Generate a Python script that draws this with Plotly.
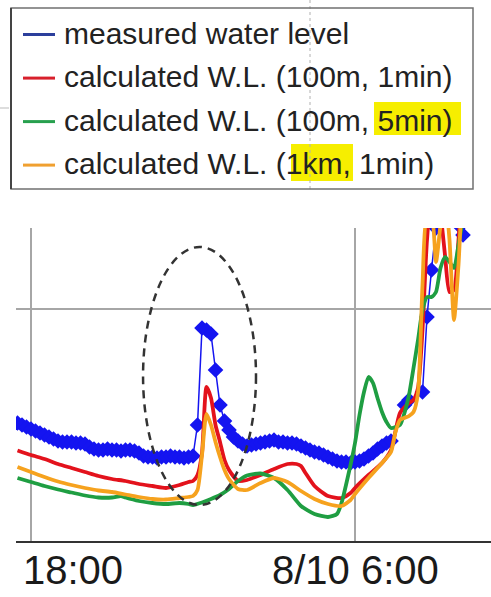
import pandas as pd
import plotly.graph_objects as go

# ---------------- data (water level, m) ----------------
DAY1 = "2014-08-09"
DAY2 = "2014-08-10"

MEAS_START = "2014-08-09 17:30"
MEAS_STEP = "10min"
MEAS_V = [0.86, 0.84, 0.82, 0.80, 0.78, 0.76, 0.74, 0.72, 0.70,
          0.68, 0.67, 0.67, 0.67, 0.66, 0.66,
          0.65, 0.62, 0.60, 0.59, 0.59, 0.60,
          0.59, 0.59, 0.58, 0.59, 0.59, 0.58,
          0.56, 0.53, 0.52, 0.52, 0.51, 0.52,
          0.52, 0.53, 0.52, 0.52, 0.51, 0.52,
          0.53, 0.84, 1.81, 1.79, 1.75, 1.39,
          1.04, 0.88, 0.79, 0.72, 0.68, 0.65,
          0.63, 0.64, 0.65, 0.66, 0.67, 0.68,
          0.69, 0.67, 0.67, 0.66, 0.66, 0.65,
          0.63, 0.61, 0.59, 0.57, 0.56, 0.54,
          0.52, 0.50, 0.48, 0.47, 0.47, 0.46,
          0.47, 0.48, 0.50, 0.53, 0.56, 0.60,
          0.63, 0.66, 0.68,
          None, None, 1.04,
          1.09, None, None, 1.17, 1.92, 2.39,
          2.81, 3.04, 3.09, 3.04, 2.94, 2.84,
          2.74, 2.94, 3.09]

RED_T = ["17:30", "18:00", "18:30", "19:00", "19:30", "20:00", "20:30", "21:00", "21:30", "22:00",
         "22:30", "23:00", "23:30", "23:50", "00:00", "00:10", "00:20", "00:30", "00:40", "00:50",
         "01:00", "01:10", "01:20", "01:40", "02:00", "02:30", "03:00", "03:30", "03:50", "04:00",
         "04:10", "04:30", "05:00", "05:30", "05:50", "06:00", "06:30", "07:00", "07:20", "07:40",
         "08:00", "08:10", "08:20", "08:30", "08:40", "08:50", "09:00", "09:10", "09:20", "09:30",
         "09:40", "09:50", "10:00", "10:20", "10:40", "11:00"]
RED_V = [0.585, 0.54, 0.50, 0.45, 0.41, 0.37, 0.33, 0.30, 0.28, 0.25,
         0.23, 0.21, 0.24, 0.27, 0.28, 0.34, 0.56, 1.22, 1.11, 0.84,
         0.67, 0.49, 0.39, 0.28, 0.29, 0.34, 0.40, 0.45, 0.45, 0.43,
         0.36, 0.23, 0.13, 0.11, 0.16, 0.21, 0.34, 0.46, 0.59, 0.96,
         1.06, 1.09, 1.21, 1.79, 2.69, 3.09, 3.09, 2.94, 2.54, 2.17,
         2.19, 2.69, 3.19, 3.39, 3.29, 3.24]

GREEN_T = ["17:30", "18:00", "18:30", "19:00", "19:30", "20:00", "20:30", "21:00",
           "21:20", "21:30", "22:00", "22:30", "23:00", "23:30", "23:50", "00:00",
           "00:20", "00:40", "01:00", "01:20", "01:40", "02:00", "02:30", "03:00", "03:30", "04:00",
           "04:30", "05:00", "05:20", "05:30", "05:50", "06:00", "06:10", "06:20", "06:30", "06:40",
           "06:50", "07:00", "07:10", "07:20", "07:40", "07:50", "08:00", "08:10", "08:20", "08:30",
           "08:40", "08:50", "09:00", "09:10", "09:20", "09:30", "09:40", "09:50", "10:00", "10:20",
           "10:40", "11:00"]
GREEN_V = [0.31, 0.27, 0.23, 0.195, 0.165, 0.135, 0.115, 0.115,
           0.13, 0.115, 0.08, 0.06, 0.05, 0.06, 0.05, 0.04,
           0.065, 0.10, 0.14, 0.20, 0.28, 0.335, 0.355, 0.31, 0.19, 0.03,
           -0.05, -0.08, -0.05, 0.06, 0.44, 0.66, 0.94, 1.17, 1.32, 1.26,
           1.11, 0.97, 0.87, 0.81, 0.84, 0.96, 1.14, 1.41, 1.69, 1.99,
           2.12, 2.12, 2.17, 2.41, 2.52, 2.47, 2.41, 2.64, 2.89, 3.19,
           3.29, 3.29]

ORANGE_T = ["17:30", "18:00", "18:30", "19:00", "19:30", "20:00", "20:30", "21:00", "21:30", "22:00",
            "22:30", "23:00", "23:30", "23:50", "00:00", "00:10", "00:20", "00:30", "00:40", "00:50",
            "01:00", "01:10", "01:20", "01:40", "02:00", "02:30", "03:00", "03:30", "04:00", "04:30",
            "05:00", "05:30", "05:50", "06:00", "06:30", "07:00", "07:20", "07:30", "07:40", "08:00",
            "08:10", "08:20", "08:30", "08:40", "08:50", "09:00", "09:10", "09:20", "09:30", "09:40",
            "09:50", "10:00", "10:20", "10:40", "11:00"]
ORANGE_V = [0.42, 0.37, 0.32, 0.275, 0.24, 0.21, 0.185, 0.17, 0.145, 0.12,
            0.10, 0.095, 0.11, 0.12, 0.13, 0.19, 0.54, 0.95, 0.84, 0.67,
            0.52, 0.39, 0.30, 0.20, 0.19, 0.26, 0.31, 0.27, 0.18, 0.10,
            0.05, 0.03, 0.09, 0.15, 0.31, 0.46, 0.57, 0.77, 0.89, 0.93,
            0.97, 1.16, 2.24, 2.94, 2.94, 2.47, 2.84, 3.14, 2.69, 1.89,
            2.44, 3.14, 3.39, 3.34, 3.29]

LEGEND_LABELS = ["measured water level",
                 "calculated W.L. (100m, 1min)",
                 "calculated W.L. (100m, 5min)",
                 "calculated W.L. (1km, 1min)"]

TICK_VALS = ["2014-08-09 18:00", "2014-08-10 06:00"]
TICK_TEXT = ["18:00", "8/10 6:00"]

X_RANGE = ["2014-08-09 17:26:40", "2014-08-10 11:02:13"]
Y_RANGE = [-0.32, 2.81]
Y_GRID = [2.0]

# highlighted event (dashed ellipse) in data space
ELLIPSE_X = ["2014-08-09 22:09", "2014-08-10 02:20"]
ELLIPSE_Y = [0.04, 2.62]

# ---------------- style ----------------
C_BLUE, C_RED, C_GREEN, C_ORANGE = "#1414f0", "#e3121c", "#1f9e42", "#f6a21e"
L_BLUE, L_RED, L_GREEN, L_ORANGE = "#2c3f9c", "#d8202c", "#27a04e", "#f0a030"
FONT = "Liberation Sans, Arial, Helvetica, sans-serif"
W, H = 491, 597
PL, PR, PT, PB = 16, 491, 228, 541


def to_dt(hhmm):
    h = int(hhmm.split(":")[0])
    return pd.Timestamp(f"{DAY1 if h >= 12 else DAY2} {hhmm}")


def px(x):
    return (x - PL) / (PR - PL)


def py(y):
    return (PB - y) / (PB - PT)


meas_t = pd.date_range(MEAS_START, periods=len(MEAS_V), freq=MEAS_STEP)

fig = go.Figure()
fig.add_trace(go.Scatter(x=meas_t, y=MEAS_V, mode="lines+markers", name=LEGEND_LABELS[0],
                         line=dict(color=C_BLUE, width=1.5),
                         marker=dict(symbol="diamond", size=12, color=C_BLUE, line=dict(width=0))))
for t, v, c, name in [(RED_T, RED_V, C_RED, LEGEND_LABELS[1]),
                      (GREEN_T, GREEN_V, C_GREEN, LEGEND_LABELS[2]),
                      (ORANGE_T, ORANGE_V, C_ORANGE, LEGEND_LABELS[3])]:
    fig.add_trace(go.Scatter(x=[to_dt(s) for s in t], y=v, mode="lines", name=name,
                             line=dict(color=c, width=3.8, shape="spline", smoothing=0.6)))

shapes = []
# dashed ellipse around the event
shapes.append(dict(type="circle", xref="x", yref="y",
                   x0=ELLIPSE_X[0], x1=ELLIPSE_X[1], y0=ELLIPSE_Y[0], y1=ELLIPSE_Y[1],
                   line=dict(color="#333333", width=2.5, dash="8px,6px"), layer="above"))

# ---- hand-drawn legend box ----
shapes.append(dict(type="line", xref="paper", yref="paper", x0=px(310), x1=px(310), y0=py(0), y1=py(190),
                   line=dict(color="#b0b0b0", width=1, dash="3px,3px")))
shapes.append(dict(type="line", xref="paper", yref="paper", x0=px(0), x1=px(9), y0=py(108), y1=py(108),
                   line=dict(color="#bbbbbb", width=1)))
shapes.append(dict(type="rect", xref="paper", yref="paper", x0=px(11), x1=px(473), y0=py(189), y1=py(8),
                   line=dict(color="#707070", width=1.5)))
shapes.append(dict(type="line", xref="paper", yref="paper", x0=px(11), x1=px(11), y0=py(189), y1=py(8),
                   line=dict(color="#444444", width=2)))
# yellow highlights
for (x0, y0, x1, y1) in [(374, 102, 461, 135), (291, 144, 353, 181)]:
    shapes.append(dict(type="rect", xref="paper", yref="paper", x0=px(x0), x1=px(x1), y0=py(y1), y1=py(y0),
                       fillcolor="#f6ee00", line=dict(width=0), layer="below"))

row_centers = [33.0, 76.6, 120.1, 163.6]
legend_cols = [L_BLUE, L_RED, L_GREEN, L_ORANGE]
annotations = []
for yc, col, lab in zip(row_centers, legend_cols, LEGEND_LABELS):
    shapes.append(dict(type="line", xref="paper", yref="paper", x0=px(23), x1=px(55),
                       y0=py(yc + 1.5), y1=py(yc + 1.5), line=dict(color=col, width=3)))
    annotations.append(dict(xref="paper", yref="paper", x=px(62), y=py(yc), text=lab,
                            xanchor="left", yanchor="middle", showarrow=False,
                            font=dict(family=FONT, size=30, color="#222222")))

# x tick labels
for i, (tv, tt) in enumerate(zip(TICK_VALS, TICK_TEXT)):
    annotations.append(dict(xref="x", yref="paper", x=tv, y=py(570), text=tt,
                            xanchor="left" if i == 0 else "center", xshift=-10 if i == 0 else 0,
                            yanchor="middle", showarrow=False,
                            font=dict(family=FONT, size=40, color="#1a1a1a")))

fig.update_layout(
    width=W, height=H,
    margin=dict(l=PL, r=W - PR, t=PT, b=H - PB, autoexpand=False),
    paper_bgcolor="white", plot_bgcolor="white",
    showlegend=False,
    shapes=shapes, annotations=annotations,
    xaxis=dict(type="date", range=X_RANGE, tickmode="array", tickvals=TICK_VALS,
               showticklabels=False, ticks="", showgrid=True, gridcolor="#a6a6a6", gridwidth=1.8,
               showline=True, linecolor="#333333", linewidth=2, zeroline=False, fixedrange=True),
    yaxis=dict(range=Y_RANGE, tickmode="array", tickvals=Y_GRID, showticklabels=False, ticks="",
               showgrid=True, gridcolor="#a6a6a6", gridwidth=1.8, zeroline=False, showline=False,
               fixedrange=True),
)

fig.write_html("out.html", config={"displayModeBar": False, "staticPlot": True},
               post_script="document.body.style.margin='0px';document.body.style.overflow='hidden';")
